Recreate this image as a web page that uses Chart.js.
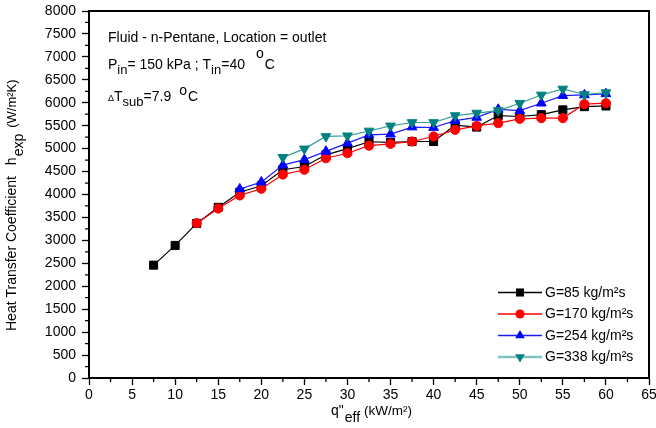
<!DOCTYPE html>
<html><head><meta charset="utf-8">
<style>html,body{margin:0;padding:0;background:#fff;}canvas{display:block;}</style>
<script src="https://cdn.jsdelivr.net/npm/chart.js@4.4.1/dist/chart.umd.min.js"></script>
</head><body>
<canvas id="c" width="656" height="428"></canvas>
<script>
// ---- data ----
const q85  = [7.5,10,12.5,15,17.5,20,22.5,25,27.5,30,32.5,35,37.5,40,42.5,45,47.5,50,52.5,55,57.5,60];
const h85  = [2460,2890,3370,3720,4050,4190,4540,4610,4865,5000,5150,5135,5155,5155,5510,5470,5720,5700,5740,5845,5915,5930];
const q170 = [12.5,15,17.5,20,22.5,25,27.5,30,32.5,35,37.5,40,42.5,45,47.5,50,52.5,55,57.5,60];
const h170 = [3375,3695,3980,4125,4435,4540,4790,4900,5065,5105,5155,5265,5410,5495,5555,5650,5665,5665,5970,5990];
const q254 = [17.5,20,22.5,25,27.5,30,32.5,35,37.5,40,42.5,45,47.5,50,52.5,55,57.5,60];
const h254 = [4120,4270,4640,4760,4940,5120,5300,5315,5470,5460,5610,5680,5855,5830,5990,6155,6170,6195];
const q338 = [22.5,25,27.5,30,32.5,35,37.5,40,42.5,45,47.5,50,52.5,55,57.5,60];
const h338 = [4810,4995,5265,5280,5385,5495,5570,5570,5720,5775,5830,5990,6170,6300,6180,6220];
const seriesLabels = ['G=85 kg/m²s','G=170 kg/m²s','G=254 kg/m²s','G=338 kg/m²s'];

const xTicks = [0,5,10,15,20,25,30,35,40,45,50,55,60,65];
const yTicks = [0,500,1000,1500,2000,2500,3000,3500,4000,4500,5000,5500,6000,6500,7000,7500,8000];
const xMinor = [2.5,7.5,12.5,17.5,22.5,27.5,32.5,37.5,42.5,47.5,52.5,57.5,62.5];
const yMinor = [250,750,1250,1750,2250,2750,3250,3750,4250,4750,5250,5750,6250,6750,7250,7750];

const FONT = '"Liberation Sans", Arial, Helvetica, sans-serif';
const pts = (xs, ys) => xs.map((x, i) => ({x, y: ys[i]}));

const datasets = [
  {label: seriesLabels[0], data: pts(q85, h85), borderColor:'#000000', backgroundColor:'#000000', pointBorderColor:'#000000', pointStyle:'rect', pointRadius:5.7, order:3, legendLine:'#000000'},
  {label: seriesLabels[1], data: pts(q170, h170), borderColor:'#ff0000', backgroundColor:'#ff0000', pointBorderColor:'#ff0000', pointStyle:'circle', pointRadius:4.6, order:2, legendLine:'#ff0000'},
  {label: seriesLabels[2], data: pts(q254, h254), borderColor:'#1a1aff', backgroundColor:'#0000ff', pointBorderColor:'#0000ff', pointStyle:'triangle', pointRadius:5.6, order:1, legendLine:'#1a1aff'},
  {label: seriesLabels[3], data: pts(q338, h338), borderColor:'#3a9e9e', backgroundColor:'#008080', pointBorderColor:'#008080', pointStyle:'triangle', pointRotation:180, pointRadius:5.6, order:0, legendLine:'#7fc4c4'}
].map(d => Object.assign({showLine:true, borderWidth:1.2, pointBorderWidth:1, pointHoverRadius:d.pointRadius, tension:0}, d));

function rich(ctx, x, y, parts) {
  let cx = x;
  for (const p of parts) {
    ctx.font = (p.size || 14) + 'px ' + FONT;
    cx += (p.gap || 0);
    ctx.fillText(p.t, cx, y + (p.dy || 0));
    cx += ctx.measureText(p.t).width;
  }
}

function marker(ctx, style, rot, r, x, y, color) {
  ctx.fillStyle = color;
  ctx.beginPath();
  if (style === 'rect') {
    const s = Math.SQRT1_2 * r;
    ctx.rect(x - s, y - s, 2 * s, 2 * s);
  } else if (style === 'circle') {
    ctx.arc(x, y, r, 0, Math.PI * 2);
  } else {
    const sgn = rot === 180 ? -1 : 1;
    ctx.moveTo(x, y - sgn * r);
    ctx.lineTo(x + r * 0.866, y + sgn * r * 0.5);
    ctx.lineTo(x - r * 0.866, y + sgn * r * 0.5);
    ctx.closePath();
  }
  ctx.fill();
}

const deco = {
  id: 'deco',
  afterDraw(chart) {
    const {ctx, chartArea: a, scales: {x, y}} = chart;
    ctx.save();
    ctx.strokeStyle = '#000';
    ctx.lineWidth = 2;
    ctx.strokeRect(a.left, a.top, a.right - a.left, a.bottom - a.top);
    // minor ticks
    ctx.lineWidth = 1.3;
    ctx.beginPath();
    yMinor.forEach(v => { const p = y.getPixelForValue(v); ctx.moveTo(a.left - 4, p); ctx.lineTo(a.left, p); });
    xMinor.forEach(v => { const p = x.getPixelForValue(v); ctx.moveTo(p, a.bottom); ctx.lineTo(p, a.bottom + 4); });
    ctx.stroke();

    ctx.fillStyle = '#000';
    ctx.textBaseline = 'alphabetic';
    ctx.textAlign = 'left';
    // annotations
    rich(ctx, 108, 41.5, [{t:'Fluid - n-Pentane, Location = outlet'}]);
    rich(ctx, 108, 69, [{t:'P'}, {t:'in', dy:5, size:13}, {t:'= 150 kPa ; T'}, {t:'in', dy:5, size:13}, {t:'=40'}, {t:'o', dy:-11, gap:11}, {t:'C', gap:1}]);
    rich(ctx, 108, 101, [{t:'\u0394', size:9}, {t:'T'}, {t:'sub', dy:5, size:13}, {t:'=7.9'}, {t:'o', dy:-6, gap:8}, {t:'C', gap:1}]);

    // x title
    rich(ctx, 331, 415, [{t:'q"'}, {t:'eff', dy:7, gap:1}, {t:'(kW/m\u00b2)', size:13.5, gap:4}]);

    // y title (rotated)
    ctx.save();
    ctx.translate(16, 331);
    ctx.rotate(-Math.PI / 2);
    rich(ctx, 0, 0, [{t:'Heat Transfer Coefficient'}, {t:'h', gap:11}, {t:'exp', dy:7, gap:1}, {t:'(W/m\u00b2K)', size:13, gap:6}]);
    ctx.restore();

    // legend
    const rows = [292.5, 314, 335.5, 357];
    chart.data.datasets.forEach((d, i) => {
      const ry = rows[i];
      ctx.strokeStyle = d.legendLine;
      ctx.lineWidth = i === 3 ? 2.5 : 1.3;
      ctx.beginPath(); ctx.moveTo(498, ry); ctx.lineTo(542, ry); ctx.stroke();
      marker(ctx, d.pointStyle, d.pointRotation || 0, d.pointRadius, 520, ry, d.pointBorderColor);
      ctx.fillStyle = '#000';
      ctx.font = '14px ' + FONT;
      ctx.textBaseline = 'middle';
      ctx.fillText(d.label, 545, ry + 0.5);
    });
    ctx.restore();
  }
};

new Chart(document.getElementById('c'), {
  type: 'scatter',
  data: {datasets},
  options: {
    responsive: false,
    animation: false,
    devicePixelRatio: 1,
    layout: {padding: {left: 0, right: 7, top: 11, bottom: 0}},
    plugins: {legend: {display: false}, tooltip: {enabled: false}},
    scales: {
      x: {
        type: 'linear', min: 0, max: 65,
        afterBuildTicks: s => { s.ticks = xTicks.map(v => ({value: v})); },
        afterFit: s => { s.height = 50; s.paddingLeft = 0; s.paddingRight = 0; },
        ticks: {color: '#000', font: {family: FONT, size: 14}, padding: 2, maxRotation: 0, autoSkip: false, callback: v => String(v)},
        grid: {drawOnChartArea: false, drawTicks: true, tickLength: 7, tickWidth: 1.3, tickColor: '#000'},
        border: {display: true, color: '#000', width: 2}
      },
      y: {
        type: 'linear', min: 0, max: 8000,
        afterBuildTicks: s => { s.ticks = yTicks.map(v => ({value: v})); },
        afterFit: s => { s.width = 89; s.paddingTop = 0; s.paddingBottom = 0; },
        ticks: {color: '#000', font: {family: FONT, size: 14}, padding: 6, autoSkip: false, callback: v => String(v)},
        grid: {drawOnChartArea: false, drawTicks: true, tickLength: 7, tickWidth: 1.3, tickColor: '#000'},
        border: {display: true, color: '#000', width: 2}
      }
    }
  },
  plugins: [deco]
});
</script>
</body></html>
